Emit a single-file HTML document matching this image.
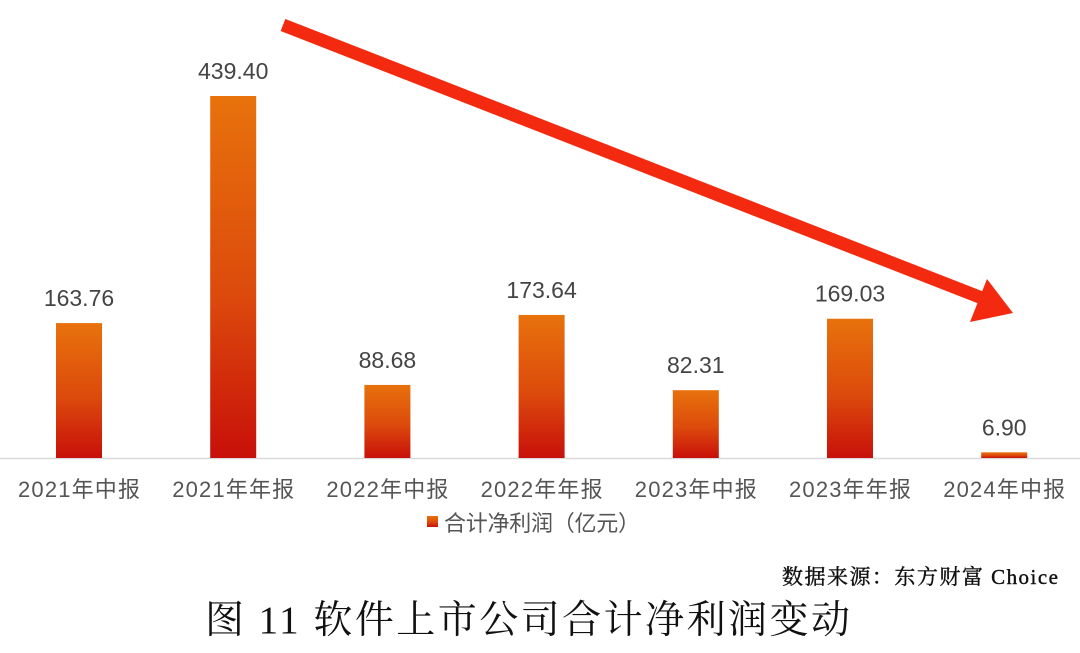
<!DOCTYPE html>
<html><head><meta charset="utf-8"><style>
body{margin:0;background:#fff;width:1080px;height:653px;overflow:hidden}
svg{display:block}
</style></head><body>
<svg id="chart" width="1080" height="653" xmlns="http://www.w3.org/2000/svg">
<defs><linearGradient id="g" x1="0" y1="0" x2="0" y2="1">
<stop offset="0" stop-color="#e8720c"/><stop offset="0.55" stop-color="#dc4a0c"/><stop offset="1" stop-color="#c8100a"/></linearGradient></defs>
<line x1="0" y1="458.5" x2="1080" y2="458.5" stroke="#d9d9d9" stroke-width="1.5"/>
<g id="bars"></g>
<rect x="427" y="516" width="11" height="11" fill="url(#g)"/>
<text x="444" y="531" font-size="22" fill="#555" font-family="Liberation Sans, Noto Sans CJK SC, sans-serif" textLength="196">合计净利润（亿元）</text>
<text x="782" y="584" font-size="21" fill="#111" stroke="#111" stroke-width="0.4" font-family="Liberation Serif, Noto Serif CJK SC, serif" textLength="276">数据来源：东方财富 Choice</text>
<text x="205" y="633" font-size="39" fill="#111" font-family="Liberation Serif, Noto Serif CJK SC, serif" textLength="645">图 11  软件上市公司合计净利润变动</text>
<g fill="#f42a10">
<line x1="283" y1="25" x2="982" y2="298" stroke="#f42a10" stroke-width="13"/>
<polygon points="987,279 1013,313 970,322"/>
</g>
</svg>
<script>
const categories=["2021年中报","2021年年报","2022年中报","2022年年报","2023年中报","2023年年报","2024年中报"];
const values=[163.76,439.40,88.68,173.64,82.31,169.03,6.90];
const labels=["163.76","439.40","88.68","173.64","82.31","169.03","6.90"];
const NS="http://www.w3.org/2000/svg";
const g=document.getElementById("bars");
const base=458,scale=362/439.4;
const xc=i=>79+i*154.2;
const yv=v=>base-v*scale;
function mk(t,a){const e=document.createElementNS(NS,t);for(const k in a)e.setAttribute(k,a[k]);return e;}
categories.forEach((c,i)=>{
 const r=mk("rect",{x:xc(i)-23,y:yv(values[i]),width:46,height:base-yv(values[i]),fill:"url(#g)"});
 
 
 g.appendChild(r);
 const t=mk("text",{x:xc(i),y:yv(values[i])-17,"text-anchor":"middle","font-size":"23",fill:"#444","font-family":"Liberation Sans, sans-serif"});
 t.textContent=labels[i];
 
 
 g.appendChild(t);
 const x=mk("text",{x:xc(i),y:497,"text-anchor":"middle","font-size":"22",fill:"#555","font-family":"Liberation Sans, Noto Sans CJK SC, sans-serif",textLength:"122"});
 x.textContent=c;
 
 
 g.appendChild(x);
});
</script>
</body></html>
